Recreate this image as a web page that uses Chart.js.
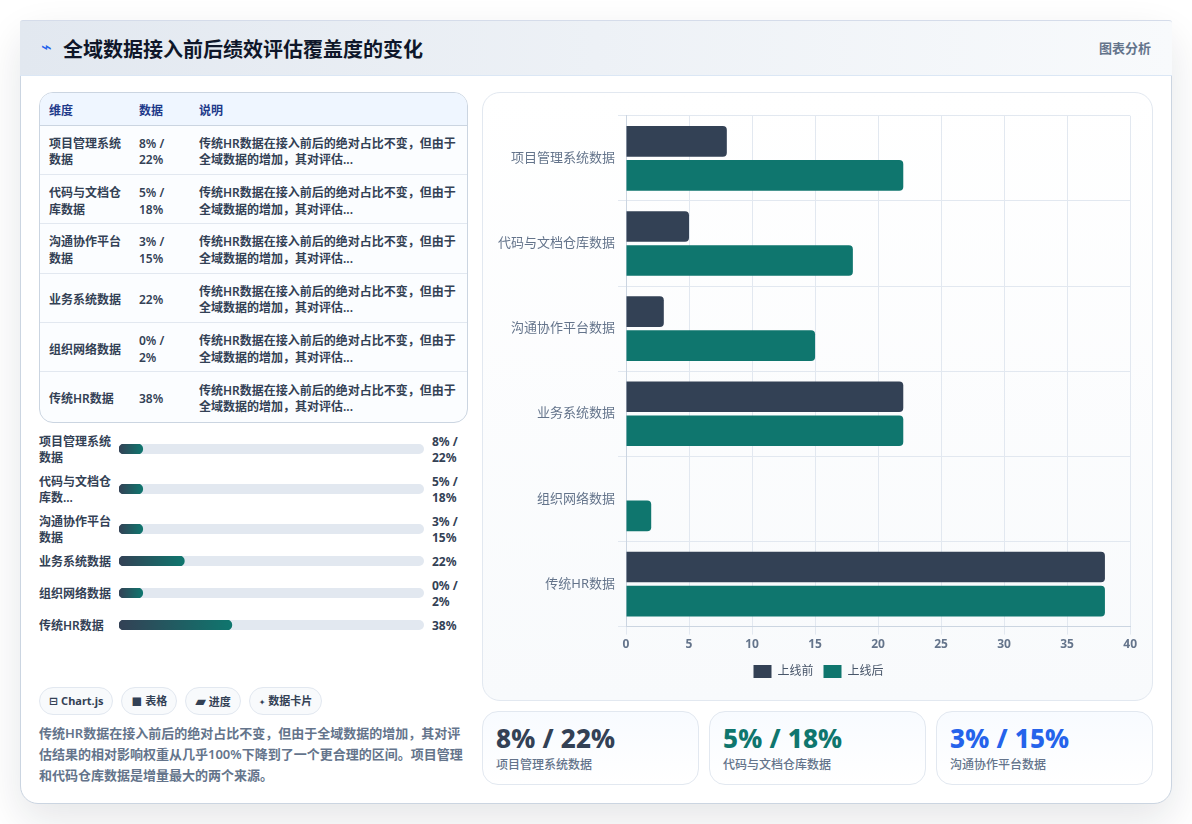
<!DOCTYPE html>
<html lang="zh-CN">
<head>
<meta charset="utf-8">
<title>全域数据接入前后绩效评估覆盖度的变化</title>
<script src="https://cdn.jsdelivr.net/npm/chart.js@4"></script>
<style>
    * { box-sizing: border-box; }
    html, body { margin: 0; width: 1192px; height: 824px; overflow: hidden; background: #fff; }
    body { font-family: "Noto Sans", "Noto Sans CJK SC", sans-serif; color: #1e293b; position: relative; }

    .tarjeta { position: absolute; left: 20px; top: 20px; width: 1152px; height: 784px; border: 1px solid #cbd5e1; border-radius: 18px;
               background: #fff; box-shadow: 0 16px 40px rgba(15, 23, 42, .11); }
    .cabecera { position: absolute; left: -1px; top: -1px; width: 1152px; height: 56px; background: linear-gradient(90deg, #e2e8f0, #f8fafc);
                border-top: 1px solid #d5dcea; border-bottom: 1px solid #dbe7f5; border-radius: 3px 3px 0 0; }
    .cabecera .icono { position: absolute; left: 21px; top: 15px; font: 18px "DejaVu Sans"; color: #2563eb; }
    .cabecera h1 { position: absolute; left: 43px; top: 14px; margin: 0; font-size: 20px; line-height: 30px; font-weight: 700; color: #0f172a; }
    .cabecera .tag { position: absolute; right: 21px; top: 17px; font-size: 13px; line-height: 20px; font-weight: 600; color: #64748b; }

    .tabla { position: absolute; left: 18px; top: 71px; width: 429px; height: 331px; border: 1px solid #cbd5e1; border-radius: 14px; overflow: hidden; background: #fbfdff; }
    table { border-collapse: collapse; width: 100%; table-layout: fixed; font-size: 12px; line-height: 16.5px; font-weight: 600; color: #334155; }
    th { height: 32px; text-align: left; padding: 4px 0 0 9px; background: #eff6ff; color: #1e3a8a; font-weight: 600; border-bottom: 1px solid #cbd5e1; }
    td { height: 49.4px; padding: 5px 8px 0 9px; border-bottom: 1px solid #e2e8f0; }
    tr:last-child td { border-bottom: 0; }

    .progresos { position: absolute; left: 18px; top: 412px; display: flex; flex-direction: column; gap: 8px; }
    .progreso { display: grid; grid-template-columns: 74px 305px 34px; align-items: center; font-size: 12px; line-height: 16px; font-weight: 600; color: #334155; }
    .progreso .nombre { position: relative; top: 1px; }
    .progreso .pista { position: relative; margin-left: 6px; width: 305px; height: 10px; border-radius: 5px; background: #e2e8f0; }
    .progreso .pista canvas { position: absolute; left: 0; top: 0; }
    .progreso .valor { position: relative; top: 1px; margin-left: 14px; width: 34px; font-weight: 700; }

    .chips { position: absolute; left: 18px; top: 666px; display: flex; gap: 8px; }
    .chip { height: 28px; padding: 0 9px; border: 1px solid #e2e8f0; border-radius: 14px; background: #f8fafc; font-size: 11px; line-height: 26px; font-weight: 700; color: #334155; white-space: nowrap; }
    .chip i { font-style: normal; font-family: "DejaVu Sans"; }
    .resumen { position: absolute; left: 18px; top: 702px; width: 428px; margin: 0; font-size: 13px; line-height: 21px; font-weight: 600; color: #64748b; }

    .panel { position: absolute; left: 461px; top: 71px; width: 671px; height: 609px; border: 1px solid #e2e8f0; border-radius: 18px; background: linear-gradient(180deg, #fff, #f8fafc); }
    .lienzo { position: absolute; left: 14px; top: 12px; width: 643px; height: 583px; }

    .dato { position: absolute; top: 690px; width: 217px; height: 74px; border: 1px solid #e2e8f0; border-radius: 16px; background: linear-gradient(180deg, #f8fbff, #fff); }
    .dato b { position: absolute; left: 13px; top: 8px; font-size: 26px; line-height: 36px; font-weight: 800; letter-spacing: .2px; white-space: nowrap; }
    .dato span { position: absolute; left: 13px; top: 44px; font-size: 12px; line-height: 18px; color: #64748b; font-weight: 500; }
</style>
</head>
<body>
<div class="tarjeta">
    <div class="cabecera">
        <span class="icono">⌁</span>
        <h1>全域数据接入前后绩效评估覆盖度的变化</h1>
        <span class="tag">图表分析</span>
    </div>
    <div class="tabla"><table id="tabla">
        <colgroup><col style="width:90px"><col style="width:60px"><col></colgroup>
        <thead><tr><th>维度</th><th>数据</th><th>说明</th></tr></thead>
        <tbody></tbody>
    </table></div>
    <div class="progresos" id="progresos"></div>
    <div class="chips">
        <span class="chip"><i>⊟</i> Chart.js</span>
        <span class="chip"><i style="font-size:13px">◼</i> 表格</span>
        <span class="chip"><i style="font-size:14px">▰</i> 进度</span>
        <span class="chip"><i style="font-size:8px">✦</i> 数据卡片</span>
    </div>
    <p class="resumen">传统HR数据在接入前后的绝对占比不变，但由于全域数据的增加，其对评估结果的相对影响权重从几乎100%下降到了一个更合理的区间。项目管理和代码仓库数据是增量最大的两个来源。</p>
    <div class="panel"><div class="lienzo"><canvas id="grafico"></canvas></div></div>
    <div id="datos"></div>
</div>

<script>
    const categorias = ["项目管理系统数据", "代码与文档仓库数据", "沟通协作平台数据", "业务系统数据", "组织网络数据", "传统HR数据"];
    const antes = [8, 5, 3, 22, 0, 38];
    const despues = [22, 18, 15, 22, 2, 38];
    const etiquetasDato = ["8% / 22%", "5% / 18%", "3% / 15%", "22%", "0% / 2%", "38%"];
    const nota = "传统HR数据在接入前后的绝对占比不变，但由于全域数据的增加，其对评估...";
    const nombresProgreso = ["项目管理系统数据", "代码与文档仓库数...", "沟通协作平台数据", "业务系统数据", "组织网络数据", "传统HR数据"];
    const coloresDato = ["#334155", "#0f766e", "#2563eb"];

    const OSCURO = "#334155";
    const VERDE = "#0f766e";
    const FUENTE = '"Noto Sans", "Noto Sans CJK SC", sans-serif';
    // el relleno nunca baja de este porcentaje, para que la barra se siga viendo
    const RELLENO_MINIMO = 8;

    // Tabla
    document.querySelector("#tabla tbody").innerHTML = categorias.map((nombre, i) =>
        `<tr><td>${nombre}</td><td>${etiquetasDato[i]}</td><td>${nota}</td></tr>`
    ).join("");

    // Barras de progreso: un gráfico pequeño por fila, porque las filas no tienen la misma altura
    nombresProgreso.forEach((nombre, i) => {
        const fila = document.createElement("div");
        fila.className = "progreso";
        fila.innerHTML = `<div class="nombre">${nombre}</div>
            <div class="pista"><canvas width="297" height="10"></canvas></div>
            <div class="valor">${etiquetasDato[i]}</div>`;
        document.getElementById("progresos").appendChild(fila);

        new Chart(fila.querySelector("canvas"), {
            type: "bar",
            data: {
                labels: [nombre],
                datasets: [{
                    data: [Math.max(antes[i], RELLENO_MINIMO)],
                    backgroundColor: ctx => {
                        const { chartArea, ctx: c, scales } = ctx.chart;
                        if (!chartArea) return VERDE;
                        const degradado = c.createLinearGradient(0, 0, scales.x.getPixelForValue(ctx.raw), 0);
                        degradado.addColorStop(0, OSCURO);
                        degradado.addColorStop(1, VERDE);
                        return degradado;
                    },
                    borderRadius: 5,
                    borderSkipped: false,
                    barPercentage: 1,
                    categoryPercentage: 1
                }]
            },
            options: {
                indexAxis: "y",
                responsive: false,
                animation: false,
                plugins: { legend: { display: false }, tooltip: { enabled: false } },
                scales: {
                    x: { display: false, min: 0, max: 100 },
                    y: { display: false }
                }
            }
        });
    });

    // Tarjetas inferiores
    [461, 688, 915].forEach((izquierda, i) => {
        const tarjeta = document.createElement("div");
        tarjeta.className = "dato";
        tarjeta.style.left = `${izquierda}px`;
        tarjeta.innerHTML = `<b style="color:${coloresDato[i]}">${etiquetasDato[i]}</b><span>${categorias[i]}</span>`;
        document.getElementById("datos").appendChild(tarjeta);
    });

    // Gráfico principal
    new Chart(document.getElementById("grafico"), {
        type: "bar",
        data: {
            labels: categorias,
            datasets: [
                { label: "上线前", data: antes, backgroundColor: OSCURO, borderRadius: 4 },
                { label: "上线后", data: despues, backgroundColor: VERDE, borderRadius: 4 }
            ]
        },
        options: {
            indexAxis: "y",
            responsive: true,
            maintainAspectRatio: false,
            animation: false,
            layout: { padding: { top: 6 } },
            plugins: {
                tooltip: { enabled: false },
                legend: {
                    position: "bottom",
                    labels: { boxWidth: 18, boxHeight: 13, padding: 10, color: "#475569", font: { family: FUENTE, size: 12 } }
                }
            },
            scales: {
                x: {
                    min: 0,
                    max: 40,
                    ticks: { stepSize: 5, color: "#64748b", font: { family: FUENTE, size: 12, weight: "700" } },
                    grid: { color: "#e2e8f0" },
                    border: { color: "#cbd5e1" }
                },
                y: {
                    afterFit: escala => { escala.width = 129; },
                    ticks: { color: "#64748b", font: { family: FUENTE, size: 13 } },
                    grid: { color: "#e2e8f0" },
                    border: { color: "#cbd5e1" }
                }
            }
        }
    });
</script>
</body>
</html>
